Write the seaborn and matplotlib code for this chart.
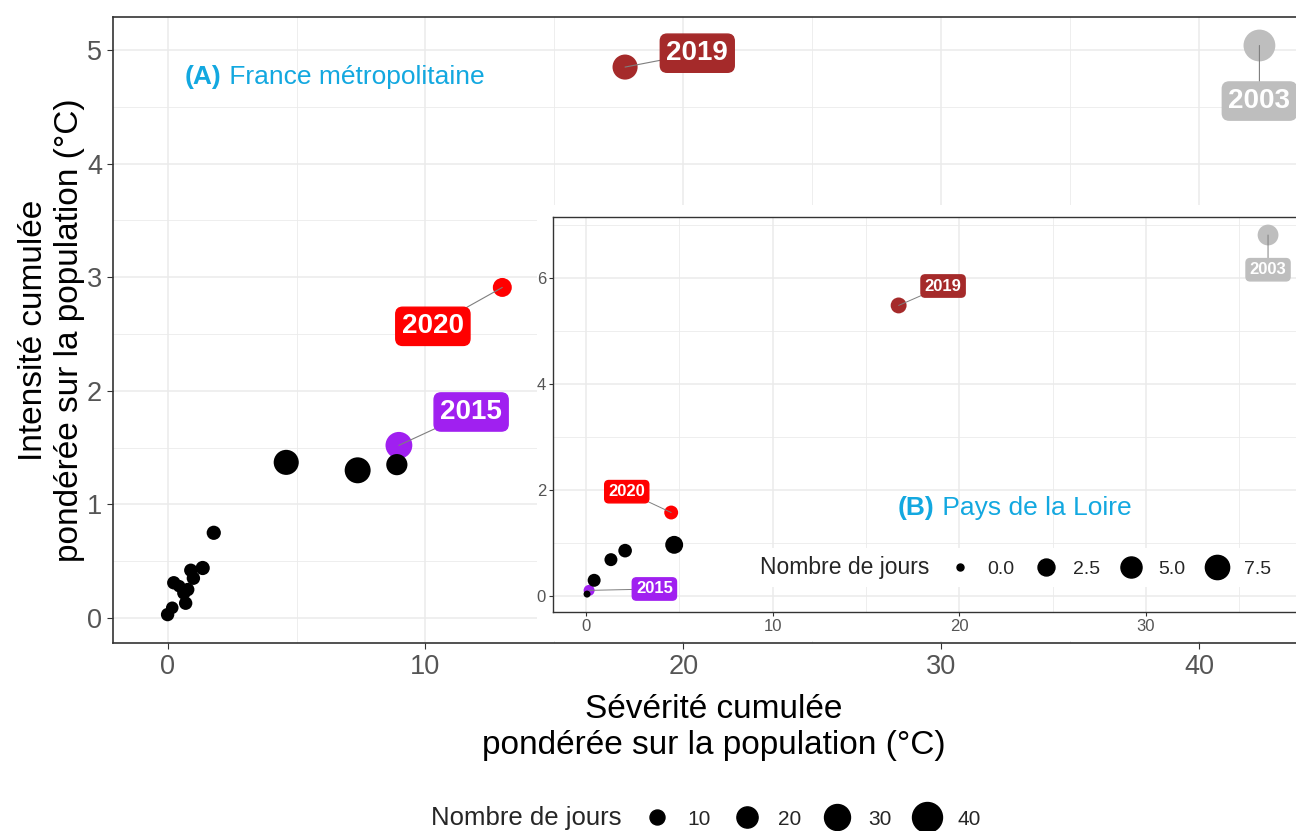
import numpy as np
import pandas as pd
import matplotlib
matplotlib.use("Agg")
import matplotlib.pyplot as plt
import seaborn as sns
from matplotlib.lines import Line2D
from matplotlib.patches import Rectangle


# 1. données
# (A) France métropolitaine
annee_fr = ["2003", "2019", "2020", "2015", "", "", "", "", "", "", "", "", "", "", "", "", "", ""]
severite_fr = [42.34, 17.74, 12.98, 8.97, 4.60, 7.37, 8.89, 1.79, 0.00, 0.18, 0.24,
               0.63, 0.70, 0.90, 1.36, 1.00, 0.78, 0.45]
intensite_fr = [5.04, 4.85, 2.91, 1.52, 1.37, 1.30, 1.35, 0.75, 0.03, 0.09, 0.31,
                0.22, 0.13, 0.42, 0.44, 0.35, 0.25, 0.28]
jours_fr = [45, 28, 16, 32, 28, 30, 20, 9, 8, 7, 8, 8, 8, 8, 9, 8, 8, 7]

# (B) Pays de la Loire
annee_pdl = ["2003", "2019", "2020", "2015", "", "", "", "", ""]
severite_pdl = [36.55, 16.75, 4.56, 0.16, 4.72, 1.33, 2.09, 0.43, 0.05]
intensite_pdl = [6.82, 5.49, 1.58, 0.11, 0.97, 0.69, 0.86, 0.30, 0.04]
jours_pdl = [4.8, 2.0, 1.2, 0.4, 3.0, 0.9, 1.1, 0.9, 0.0]

legende_fr = [10, 20, 30, 40]
legende_pdl = [0.0, 2.5, 5.0, 7.5]

couleurs = {"2003": "#BEBEBE", "2019": "#A52A2A", "2020": "#FF0000",
            "2015": "#A020F0", "": "black"}
bleu = "#13A8E0"
gris_txt = "#555555"


# 2. taille des points (diamètre en px -> aire en pt^2, dpi=100)
def diam_fr(d):
    return 4.74 * np.sqrt(d)


def diam_pdl(d):
    return 7 + 6.3 * np.sqrt(d)


def aire(diam_px):
    return (diam_px * 0.72) ** 2


df_fr = pd.DataFrame({"annee": annee_fr, "x": severite_fr, "y": intensite_fr, "jours": jours_fr})
df_pdl = pd.DataFrame({"annee": annee_pdl, "x": severite_pdl, "y": intensite_pdl, "jours": jours_pdl})

sns.set_theme(style="white")
plt.rcParams["font.family"] = ["Liberation Sans", "DejaVu Sans"]

fig = plt.figure(figsize=(12.96, 8.31), dpi=100)
ax = fig.add_axes([0.0872, 0.2262, 0.9267, 0.7533])


def style_axes(a, xmaj, xmin, ymaj, ymin, fs, lw_spine):
    a.set_xticks(xmaj)
    a.set_xticks(xmin, minor=True)
    a.set_yticks(ymaj)
    a.set_yticks(ymin, minor=True)
    a.grid(True, which="major", color="#EBEBEB", lw=1.1, zorder=0)
    a.grid(True, which="minor", color="#EBEBEB", lw=0.6, zorder=0)
    a.set_axisbelow(True)
    for s in a.spines.values():
        s.set_color("#333333")
        s.set_linewidth(lw_spine)
    a.tick_params(which="major", length=4, width=0.8, color="#333333",
                  labelsize=fs, labelcolor=gris_txt, bottom=True, left=True)
    a.tick_params(which="minor", length=0)


def etiquettes(a, df, decal, fs, lw):
    for i, r in df.iterrows():
        if r["annee"] == "":
            continue
        a.annotate(r["annee"], xy=(r["x"], r["y"]), xytext=decal[r["annee"]],
                   textcoords="offset points", ha="center", va="center",
                   fontsize=fs, fontweight="bold", color="white", zorder=5,
                   bbox=dict(boxstyle="round,pad=0.22,rounding_size=0.25",
                             fc=couleurs[r["annee"]], ec=couleurs[r["annee"]]),
                   arrowprops=dict(arrowstyle="-", color="#7F7F7F", lw=lw,
                                   shrinkA=0, shrinkB=0))


# 3. panneau (A)
sns.scatterplot(data=df_fr, x="x", y="y", hue="annee", palette=couleurs,
                size="jours", sizes={d: aire(diam_fr(d)) for d in df_fr["jours"].unique()},
                linewidth=0, legend=False, ax=ax, zorder=3)
ax.margins(x=0.05, y=0.05)
style_axes(ax, [0, 10, 20, 30, 40], [5, 15, 25, 35], [0, 1, 2, 3, 4, 5],
           [0.5, 1.5, 2.5, 3.5, 4.5], 19.5, 1.2)
ax.tick_params(which="major", pad=4)
ax.set_xlabel("Sévérité cumulée\npondérée sur la population (°C)", fontsize=24,
              color="black", labelpad=10, linespacing=1.2)
ax.set_ylabel("Intensité cumulée\npondérée sur la population (°C)", fontsize=24,
              color="black", labelpad=1, linespacing=1.2)
etiquettes(ax, df_fr, {"2003": (0, -40), "2019": (52, 10), "2020": (-50, -28), "2015": (52, 24)},
           20, 0.8)

tA = ax.text(0.06, 0.904, "(A)", transform=ax.transAxes, fontsize=19,
             fontweight="bold", color=bleu, va="center", ha="left")
ax.annotate(" France métropolitaine", xy=(1, 0.5), xycoords=tA, va="center",
            ha="left", fontsize=19, color=bleu)

# fond blanc de l'encart
fig.patches.append(Rectangle((0.4144, 0.2286), 0.59, 0.5247, transform=fig.transFigure,
                             fc="white", ec="none", zorder=1))

# 4. encart (B)
axb = fig.add_axes([0.4267, 0.2635, 0.578, 0.4753], zorder=2)
sns.scatterplot(data=df_pdl, x="x", y="y", hue="annee", palette=couleurs,
                size="jours", sizes={d: aire(diam_pdl(d)) for d in df_pdl["jours"].unique()},
                linewidth=0, legend=False, ax=axb, zorder=3)
axb.margins(x=0.05, y=0.05)
style_axes(axb, [0, 10, 20, 30], [5, 15, 25, 35], [0, 2, 4, 6], [1, 3, 5, 7], 12, 1.0)
axb.tick_params(which="major", length=3, pad=2)
axb.set_xlabel("")
axb.set_ylabel("")
etiquettes(axb, df_pdl, {"2003": (0, -25), "2019": (32, 14), "2020": (-32, 15), "2015": (47, 1)},
           12, 0.7)

tB = axb.text(0.4606, 0.263, "(B)", transform=axb.transAxes, fontsize=19,
              fontweight="bold", color=bleu, va="center", ha="left")
axb.annotate(" Pays de la Loire", xy=(1, 0.5), xycoords=tB, va="center",
             ha="left", fontsize=19, color=bleu)

# légende de l'encart
h_pdl = [Line2D([], [], ls="none")] + [
    Line2D([], [], ls="none", marker="o", color="black", markersize=diam_pdl(v) * 0.72)
    for v in legende_pdl]
lab_pdl = ["Nombre de jours"] + [f"{v:.1f}" for v in legende_pdl]
leg_b = axb.legend(h_pdl, lab_pdl, ncol=5, loc="center left", bbox_to_anchor=(0.201, 0.113),
                   frameon=True, facecolor="white", edgecolor="none", framealpha=1,
                   fontsize=14, handlelength=1.2, handletextpad=0.8, columnspacing=1.0,
                   borderpad=0.4)
leg_b.get_texts()[0].set_fontsize(16.5)

# légende principale (bas)
h_fr = [Line2D([], [], ls="none")] + [
    Line2D([], [], ls="none", marker="o", color="black", markersize=diam_fr(v) * 0.72)
    for v in legende_fr]
lab_fr = ["Nombre de jours"] + [str(v) for v in legende_fr]
leg = fig.legend(h_fr, lab_fr, ncol=5, loc="center", bbox_to_anchor=(0.527, 0.016),
                 frameon=False, fontsize=15, handlelength=1.4, handletextpad=0.8,
                 columnspacing=1.0)
leg.get_texts()[0].set_fontsize(18.5)

fig.savefig("out.png", dpi=100)
